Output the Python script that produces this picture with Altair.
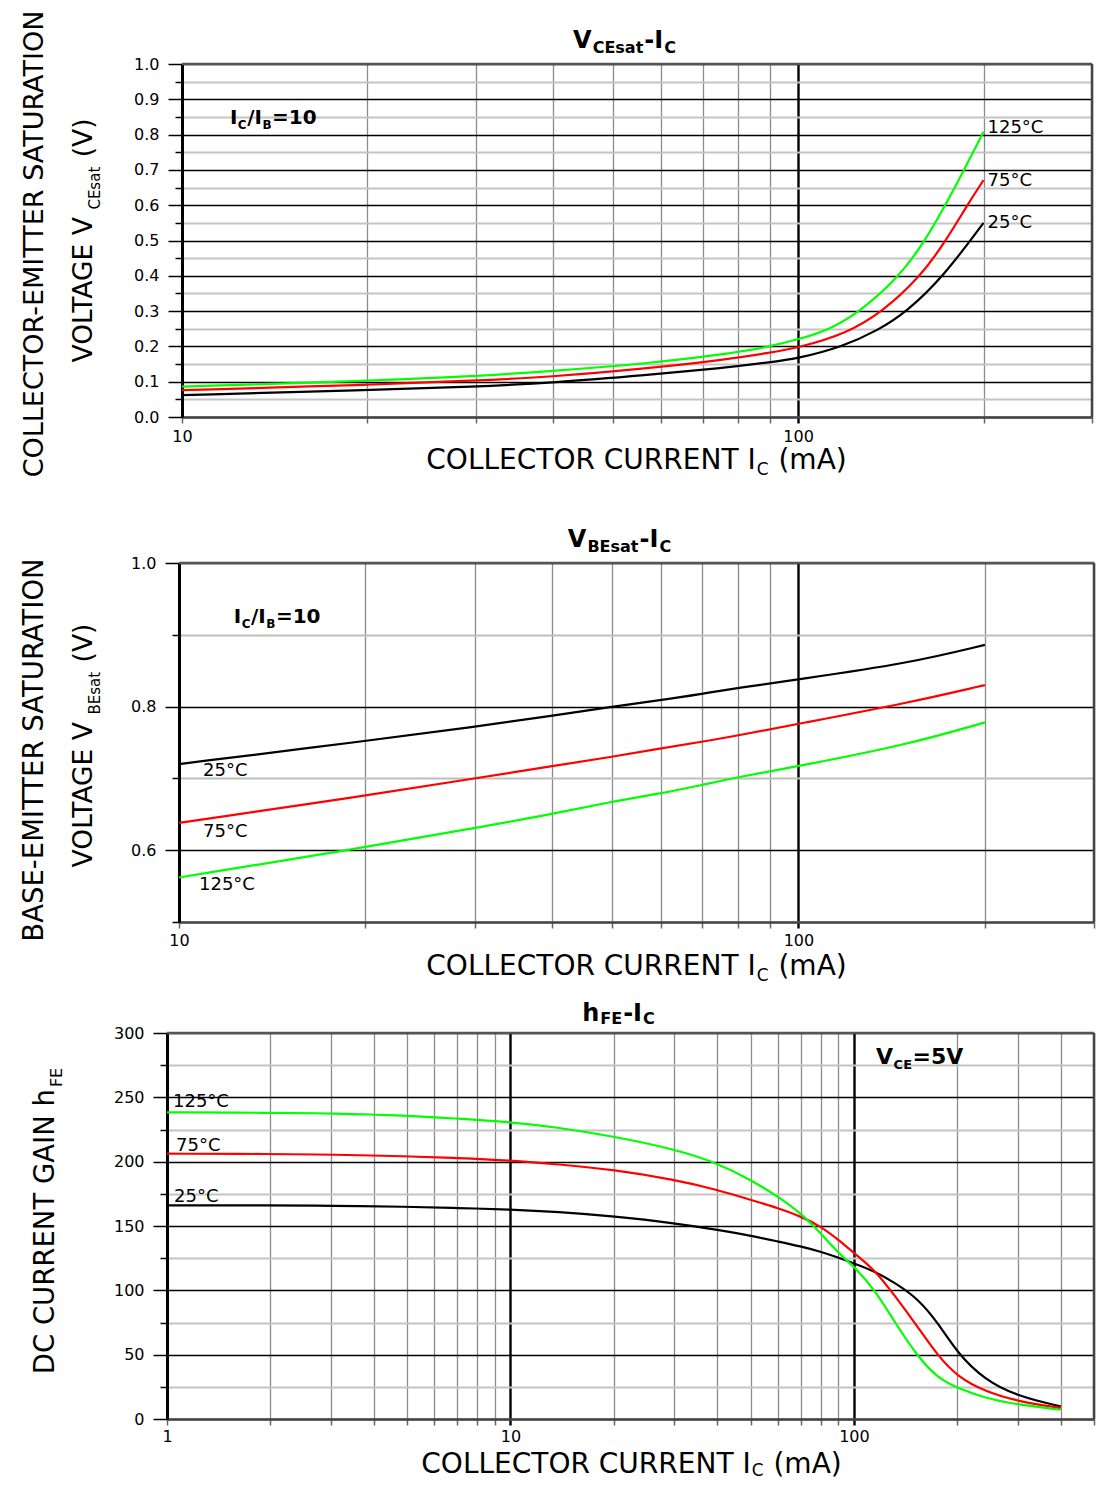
import altair as alt
import pandas as pd

FONT = "DejaVu Sans"
TEMPS = ["25°C", "75°C", "125°C"]
COLORS = ["#000000", "#ff0000", "#00ff00"]

# ---------------- Panel 1 : VCEsat - IC ----------------
vce_I_25 = [10, 20, 30, 40, 57, 75, 90, 100, 118, 135, 150, 172, 200]
vce_25 = [0.062, 0.076, 0.086, 0.097, 0.119, 0.138, 0.155, 0.166, 0.199, 0.246, 0.298, 0.397, 0.550]
vce_I_75 = [10, 20, 30, 40, 57, 75, 90, 100, 120, 137, 158, 174, 189, 200]
vce_75 = [0.076, 0.091, 0.103, 0.114, 0.138, 0.161, 0.182, 0.196, 0.237, 0.298, 0.397, 0.501, 0.605, 0.671]
vce_I_125 = [10, 20, 30, 40, 57, 75, 90, 100, 112, 126, 146, 161, 174, 186, 200]
vce_125 = [0.086, 0.102, 0.116, 0.130, 0.152, 0.176, 0.199, 0.220, 0.246, 0.298, 0.397, 0.501, 0.605, 0.700, 0.808]

# ---------------- Panel 2 : VBEsat - IC ----------------
vbe_I = [10, 20, 30, 40, 50, 60, 70, 80, 100, 150, 200]
vbe_25 = [0.720, 0.752, 0.772, 0.787, 0.800, 0.809, 0.818, 0.826, 0.838, 0.860, 0.886]
vbe_75 = [0.638, 0.676, 0.700, 0.717, 0.730, 0.742, 0.751, 0.760, 0.776, 0.805, 0.830]
vbe_125 = [0.562, 0.604, 0.631, 0.650, 0.668, 0.679, 0.691, 0.702, 0.717, 0.747, 0.778]

# ---------------- Panel 3 : hFE - IC ----------------
hfe_I = [1, 2, 3, 5, 7, 10, 13.7, 20, 30, 40, 50, 60, 70, 80, 90, 100, 115, 132, 153, 176, 200, 240, 300, 400]
hfe_25 = [166, 166, 165.8, 165, 164, 162.8, 161, 157.5, 152.3, 147.1, 142.5, 138, 134.2, 130, 125.5, 121,
          114.7, 105.7, 94, 74.6, 51.3, 30.5, 17.6, 9.8]
hfe_75 = [206.2, 206, 205.5, 204.2, 202.9, 200.9, 198, 193.8, 186, 178.2, 170.4, 164, 157.5, 149.7, 139.4, 129,
          116, 95.3, 72, 48.7, 33.1, 21.5, 13.7, 8.5]
hfe_125 = [238.3, 238, 237.6, 236, 233.4, 230.8, 226.6, 219.7, 209.8, 199, 186, 173, 160, 144.6, 129, 118.6,
           100.5, 74.6, 48.7, 31.5, 24.1, 16.3, 11.1, 7.2]

# ---------------- tick / grid positions ----------------
p12_xticks = [10, 20, 30, 40, 50, 60, 70, 80, 90, 100, 200, 300]
p1_yticks = [0.0, 0.05, 0.1, 0.15, 0.2, 0.25, 0.3, 0.35, 0.4, 0.45, 0.5,
             0.55, 0.6, 0.65, 0.7, 0.75, 0.8, 0.85, 0.9, 0.95, 1.0]
p2_yticks = [0.5, 0.6, 0.7, 0.8, 0.9, 1.0]
p3_xticks = [1, 2, 3, 4, 5, 6, 7, 8, 9, 10, 20, 30, 40, 50, 60, 70, 80, 90, 100, 200, 300, 400, 500]
p3_yticks = [0, 25, 50, 75, 100, 125, 150, 175, 200, 225, 250, 275, 300]

# ---------------- text width estimate (DejaVu Sans) ----------------
W = {' ': .318, '(': .390, ')': .390, '-': .361, '.': .318, '/': .337, '=': .838, '°': .5,
     'A': .684, 'B': .686, 'C': .698, 'D': .770, 'E': .632, 'F': .575, 'G': .775, 'H': .752, 'I': .295,
     'L': .557, 'M': .863, 'N': .748, 'O': .787, 'R': .695, 'S': .635, 'T': .611, 'U': .732, 'V': .684,
     'a': .613, 'h': .634, 'm': .974, 's': .521, 't': .392}
WB = {' ': .348, '-': .415, '/': .365, '=': .838, '°': .5, 'B': .762, 'C': .734, 'E': .683, 'F': .683,
      'I': .372, 'V': .774, 'a': .675, 'h': .712, 's': .595, 't': .478}
for _d in "0123456789":
    W[_d] = .636
    WB[_d] = .696


def tw(s, size, bold=False):
    tab = WB if bold else W
    return sum(tab.get(ch, 0.62) for ch in s) * size


one = pd.DataFrame({"k": [0]})


def chain(parts, anchor, angle=0, center=False, dx0=0.0, dy0=0.0, gap=1.0):
    """Text made of several runs (for subscripts). anchor = ('px', x, y) or
    ('data', I, v, xscale, yscale, xaxis, yaxis)."""
    widths = [tw(t, s, b) + gap for t, s, b, _ in parts]
    single = len(parts) == 1
    off = dx0 - (sum(widths) / 2 if (center and not single) else 0)
    layers = []
    for (t, s, b, d), w in zip(parts, widths):
        lead = tw(t[:len(t) - len(t.lstrip())], s, b)
        txt = t.strip()
        if anchor[0] == "px":
            src = one
            enc = dict(x=alt.value(anchor[1]), y=alt.value(anchor[2]))
        else:
            src = pd.DataFrame({"I": [anchor[1]], "v": [anchor[2]]})
            enc = dict(x=alt.X("I:Q", scale=anchor[3], axis=anchor[5]),
                       y=alt.Y("v:Q", scale=anchor[4], axis=anchor[6]))
        mk = alt.Chart(src).mark_text(
            text=txt, font=FONT, fontSize=s, fontWeight="bold" if b else "normal",
            align="center" if (center and single) else "left", baseline="alphabetic",
            dx=off + lead, dy=dy0 + d, angle=angle, color="#000000")
        layers.append(mk.encode(**enc))
        off += w
    return layers


def cond(test, a, b):
    return {"condition": {"test": test, "value": a}, "value": b}


def x_axis(values, major_test, label_test, pad):
    return alt.Axis(
        values=values, title=None, grid=True,
        gridColor=cond(major_test, "#000000", "#8c8c8c"),
        gridWidth=cond(major_test, 2.4, 1.3),
        tickColor=cond(major_test, "#000000", "#666666"),
        tickWidth=cond(major_test, 2.4, 1.5),
        tickSize=6, domainColor="#444444", domainWidth=2.5,
        labelExpr=f"({label_test}) ? format(datum.value, 'd') : ''",
        labelFont=FONT, labelFontSize=16, labelColor="#000000",
        labelPadding=pad, labelFlush=False, labelOverlap=False)


def y_axis(values, major_test, label_expr, minor_color, offset):
    return alt.Axis(
        values=values, title=None, grid=True, offset=offset,
        gridColor=cond(major_test, "#000000", minor_color),
        gridWidth=cond(major_test, 1.5, 2),
        tickColor="#000000", tickWidth=1.5,
        tickSize=cond(major_test, 14, 7),
        domainColor="#000000", domainWidth=3,
        labelExpr=label_expr,
        labelFont=FONT, labelFontSize=16, labelColor="#000000",
        labelPadding=9, labelFlush=False, labelOverlap=False)


def series_df(pairs):
    frames = []
    for name, xs, ys in pairs:
        frames.append(pd.DataFrame({"I": xs, "v": ys, "T": name}))
    return pd.concat(frames, ignore_index=True)


def curves(df, xs, ys, xa, ya):
    return alt.Chart(df).mark_line(strokeWidth=2.2, interpolate="basis").encode(
        x=alt.X("I:Q", scale=xs, axis=xa),
        y=alt.Y("v:Q", scale=ys, axis=ya),
        color=alt.Color("T:N", scale=alt.Scale(domain=TEMPS, range=COLORS), legend=None),
    )


def borders(xdom, ydom, xs, ys, xa, ya):
    right = alt.Chart(pd.DataFrame({"I": [xdom[1]], "v": [ydom[0]], "v2": [ydom[1]]})).mark_rule(
        color="#444444", strokeWidth=2.5).encode(
        x=alt.X("I:Q", scale=xs, axis=xa), y=alt.Y("v:Q", scale=ys, axis=ya), y2="v2:Q")
    top = alt.Chart(pd.DataFrame({"I": [xdom[0]], "I2": [xdom[1]], "v": [ydom[1]]})).mark_rule(
        color="#555555", strokeWidth=2.5).encode(
        x=alt.X("I:Q", scale=xs, axis=xa), x2="I2:Q", y=alt.Y("v:Q", scale=ys, axis=ya))
    return [top, right]


def ic_title(cx, base, sub_dy=6):
    return chain([("COLLECTOR CURRENT I", 28, False, 0), ("C", 17, False, sub_dy), (" (mA)", 28, False, 0)],
                 ("px", cx, base), center=True)


def temp_label(t, I, v, xs, ys, xa, ya, dx, dy):
    return chain([(t, 18, False, 0)], ("data", I, v, xs, ys, xa, ya), dx0=dx, dy0=dy)


# Common plot origin is panel 3's; panels 1 and 2 start a little to the right.
# ---------------- Panel 1 ----------------
x1dom, y1dom = [10, 300], [0, 1.0]
xs1 = alt.Scale(type="log", domain=x1dom, nice=False, range=[15, 925])
ys1 = alt.Scale(domain=y1dom, nice=False, zero=False)
xa1 = x_axis(p12_xticks, "datum.value == 100", "datum.value == 10 || datum.value == 100", 5)
ya1 = y_axis(p1_yticks, "round(datum.value * 100) % 10 == 0",
             "round(datum.value * 100) % 10 == 0 ? format(datum.value, '.1f') : ''", "#c4c4c4", -15)
df1 = series_df([("25°C", vce_I_25, vce_25), ("75°C", vce_I_75, vce_75), ("125°C", vce_I_125, vce_125)])
ann1 = []
ann1 += chain([("V", 24, True, 0), ("CEsat", 16, True, 5), ("-I", 24, True, 0), ("C", 16, True, 5)],
              ("px", 458, -16), center=True)
ann1 += ic_title(470, 405)
ann1 += chain([("COLLECTOR-EMITTER SATURATION", 27, False, 0)], ("px", -124, 180), angle=270, center=True)
ann1 += chain([("VOLTAGE V", 26.5, False, 0), ("CEsat", 15, False, 8), (" (V)", 26.5, False, 0)],
              ("px", -75, 176), angle=270, center=True)
ann1 += chain([("I", 20, True, 0), ("C", 12, True, 5), ("/I", 20, True, 0), ("B", 12, True, 5), ("=10", 20, True, 0)],
              ("data", 11.96, 0.830, xs1, ys1, xa1, ya1), gap=0.5)
ann1 += temp_label("125°C", 200, vce_125[-1], xs1, ys1, xa1, ya1, 4, 1)
ann1 += temp_label("75°C", 200, vce_75[-1], xs1, ys1, xa1, ya1, 4, 6)
ann1 += temp_label("25°C", 200, vce_25[-1], xs1, ys1, xa1, ya1, 4, 5)
p1 = alt.layer(*borders(x1dom, y1dom, xs1, ys1, xa1, ya1), curves(df1, xs1, ys1, xa1, ya1), *ann1
               ).properties(width=925, height=353)

# ---------------- Panel 2 ----------------
x2dom, y2dom = [10, 300], [0.5, 1.0]
xs2 = alt.Scale(type="log", domain=x2dom, nice=False, range=[12, 927])
ys2 = alt.Scale(domain=y2dom, nice=False, zero=False)
xa2 = x_axis(p12_xticks, "datum.value == 100", "datum.value == 10 || datum.value == 100", 4)
ya2 = y_axis(p2_yticks, "round(datum.value * 10) % 2 == 0",
             "round(datum.value * 10) % 2 == 0 ? format(datum.value, '.1f') : ''", "#bdbdbd", -12)
df2 = series_df([("25°C", vbe_I, vbe_25), ("75°C", vbe_I, vbe_75), ("125°C", vbe_I, vbe_125)])
ann2 = []
ann2 += chain([("V", 24, True, 0), ("BEsat", 16, True, 5), ("-I", 24, True, 0), ("C", 16, True, 5)],
              ("px", 453, -16), center=True)
ann2 += ic_title(470, 412)
ann2 += chain([("BASE-EMITTER SATURATION", 27.5, False, 0)], ("px", -124, 187), angle=270, center=True)
ann2 += chain([("VOLTAGE V", 26.5, False, 0), ("BEsat", 15, False, 8), (" (V)", 26.5, False, 0)],
              ("px", -75, 182), angle=270, center=True)
ann2 += chain([("I", 20, True, 0), ("C", 12, True, 5), ("/I", 20, True, 0), ("B", 12, True, 5), ("=10", 20, True, 0)],
              ("data", 12.26, 0.916, xs2, ys2, xa2, ya2), gap=0.5)
ann2 += temp_label("25°C", 10, vbe_25[0], xs2, ys2, xa2, ya2, 24, 12)
ann2 += temp_label("75°C", 10, vbe_75[0], xs2, ys2, xa2, ya2, 24, 14)
ann2 += temp_label("125°C", 10, vbe_125[0], xs2, ys2, xa2, ya2, 20, 13)
p2 = alt.layer(*borders(x2dom, y2dom, xs2, ys2, xa2, ya2), curves(df2, xs2, ys2, xa2, ya2), *ann2
               ).properties(width=927, height=359)

# ---------------- Panel 3 ----------------
x3dom, y3dom = [1, 500], [0, 300]
xs3 = alt.Scale(type="log", domain=x3dom, nice=False)
ys3 = alt.Scale(domain=y3dom, nice=False)
xa3 = x_axis(p3_xticks, "datum.value == 10 || datum.value == 100",
             "datum.value == 1 || datum.value == 10 || datum.value == 100", 3)
ya3 = y_axis(p3_yticks, "datum.value % 50 == 0",
             "datum.value % 50 == 0 ? format(datum.value, 'd') : ''", "#c4c4c4", 0)
df3 = series_df([("25°C", hfe_I, hfe_25), ("75°C", hfe_I, hfe_75), ("125°C", hfe_I, hfe_125)])
ann3 = []
ann3 += chain([("h", 24, True, 0), ("FE", 16, True, 3), ("-I", 24, True, 0), ("C", 16, True, 3)],
              ("px", 452, -12), center=True)
ann3 += ic_title(465, 440, sub_dy=3)
ann3 += chain([("DC CURRENT GAIN h", 27.5, False, 0), ("FE", 16, False, 8)],
              ("px", -113, 187), angle=270, center=True, gap=2)
ann3 += chain([("V", 22, True, 0), ("CE", 13, True, 5), ("=5V", 22, True, 0)],
              ("data", 116, 275.9, xs3, ys3, xa3, ya3), gap=0.5)
ann3 += temp_label("125°C", 1, hfe_125[0], xs3, ys3, xa3, ya3, 6, -5)
ann3 += temp_label("75°C", 1, hfe_75[0], xs3, ys3, xa3, ya3, 9, -3)
ann3 += temp_label("25°C", 1, hfe_25[0], xs3, ys3, xa3, ya3, 7, -3)
p3 = alt.layer(*borders(x3dom, y3dom, xs3, ys3, xa3, ya3), curves(df3, xs3, ys3, xa3, ya3), *ann3
               ).properties(width=927, height=386)

chart = alt.vconcat(
    alt.vconcat(p1, p2, spacing=50),
    p3, spacing=18,
).properties(
    padding={"left": 12, "top": 2, "right": 0, "bottom": 0}
).configure_view(strokeWidth=0)

chart.save("out.html", embed_options={"renderer": "svg", "actions": False})
